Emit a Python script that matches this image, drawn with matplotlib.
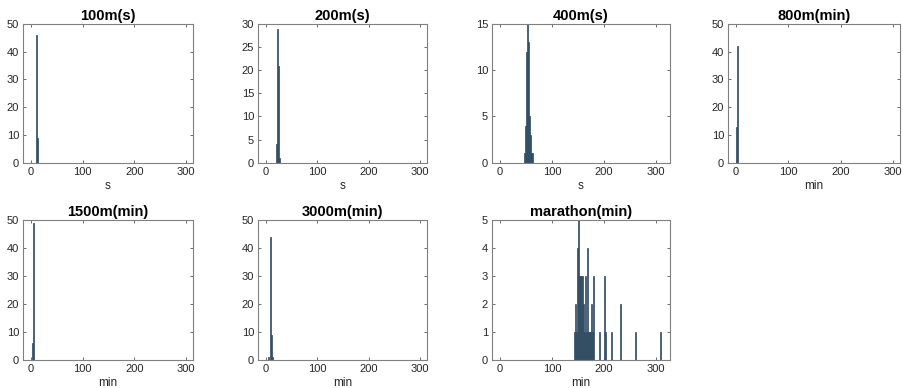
import numpy as np
import matplotlib
matplotlib.use('Agg')
import matplotlib.pyplot as plt

matplotlib.rcParams['font.family'] = ['Liberation Sans', 'DejaVu Sans']

# histogram counts, bin width 2 starting at the listed bin edge
titles = ['100m(s)', '200m(s)', '400m(s)', '800m(min)',
          '1500m(min)', '3000m(min)', 'marathon(min)']
xlabels = ['s', 's', 's', 'min', 'min', 'min', 'min']

bins_100 = [10, 12]
counts_100 = [46, 9]
bins_200 = [20, 22, 24, 26]
counts_200 = [4, 29, 21, 1]
bins_400 = [46, 48, 50, 52, 54, 56, 58, 60, 62]
counts_400 = [1, 4, 12, 15, 13, 5, 3, 1, 1]
bins_800 = [0, 2]
counts_800 = [13, 42]
bins_1500 = [2, 4]
counts_1500 = [6, 49]
bins_3000 = [4, 8, 10, 12]
counts_3000 = [1, 44, 9, 1]
bins_mar = [142, 144, 146, 148, 150, 152, 154, 156, 158, 160, 162, 164, 166,
            168, 170, 172, 174, 176, 178, 180, 190, 200, 202, 214, 232, 260, 308]
counts_mar = [1, 2, 1, 4, 5, 3, 3, 3, 3, 2, 1, 3, 1,
              4, 1, 1, 1, 2, 1, 3, 1, 3, 1, 1, 2, 1, 1]

ymax = [50, 30, 15, 50, 50, 50, 5]
ystep = [10, 5, 5, 10, 10, 10, 1]

all_bins = [bins_100, bins_200, bins_400, bins_800, bins_1500, bins_3000, bins_mar]
all_counts = [counts_100, counts_200, counts_400, counts_800, counts_1500, counts_3000, counts_mar]

edges = np.arange(0, 310, 2)

W, H = 904, 388
fig = plt.figure(figsize=(W / 100, H / 100), dpi=100)

# axes boxes in pixels: left, right, top, bottom
cols = [(23.3, 192.7, -15, 313), (258.3, 426.7, -15, 313),
        (492.3, 669.5, -15, 327), (728.3, 900, -15, 313)]
rows = [(24, 162.7), (220, 359.7)]

for i in range(7):
    r, c = divmod(i, 4)
    l, rt, x0, x1 = cols[c]
    t, b = rows[r]
    ax = fig.add_axes([l / W, (H - b) / H, (rt - l) / W, (b - t) / H])

    h = np.zeros(len(edges))
    for bs, cnt in zip(all_bins[i], all_counts[i]):
        h[list(edges).index(bs)] = cnt
    ax.bar(edges, h, width=2, align='edge', color='#4a7192',
           edgecolor='#2a4257', linewidth=0.5)

    ax.set_xlim(x0, x1)
    ax.set_ylim(0, ymax[i])
    ax.set_xticks([0, 100, 200, 300])
    ax.set_yticks(np.arange(0, ymax[i] + 0.1, ystep[i]))
    ax.tick_params(direction='in', top=True, right=True, length=2.5,
                   width=0.6, color='#555555', labelsize=8, labelcolor='#262626',
                   pad=3)
    for s in ax.spines.values():
        s.set_color('#808080')
        s.set_linewidth(0.8)
    ax.set_title(titles[i], fontsize=10.5, fontweight='bold', pad=3)
    ax.set_xlabel(xlabels[i], fontsize=8.5, color='#262626', labelpad=2)

plt.savefig('out.png', dpi=100)
